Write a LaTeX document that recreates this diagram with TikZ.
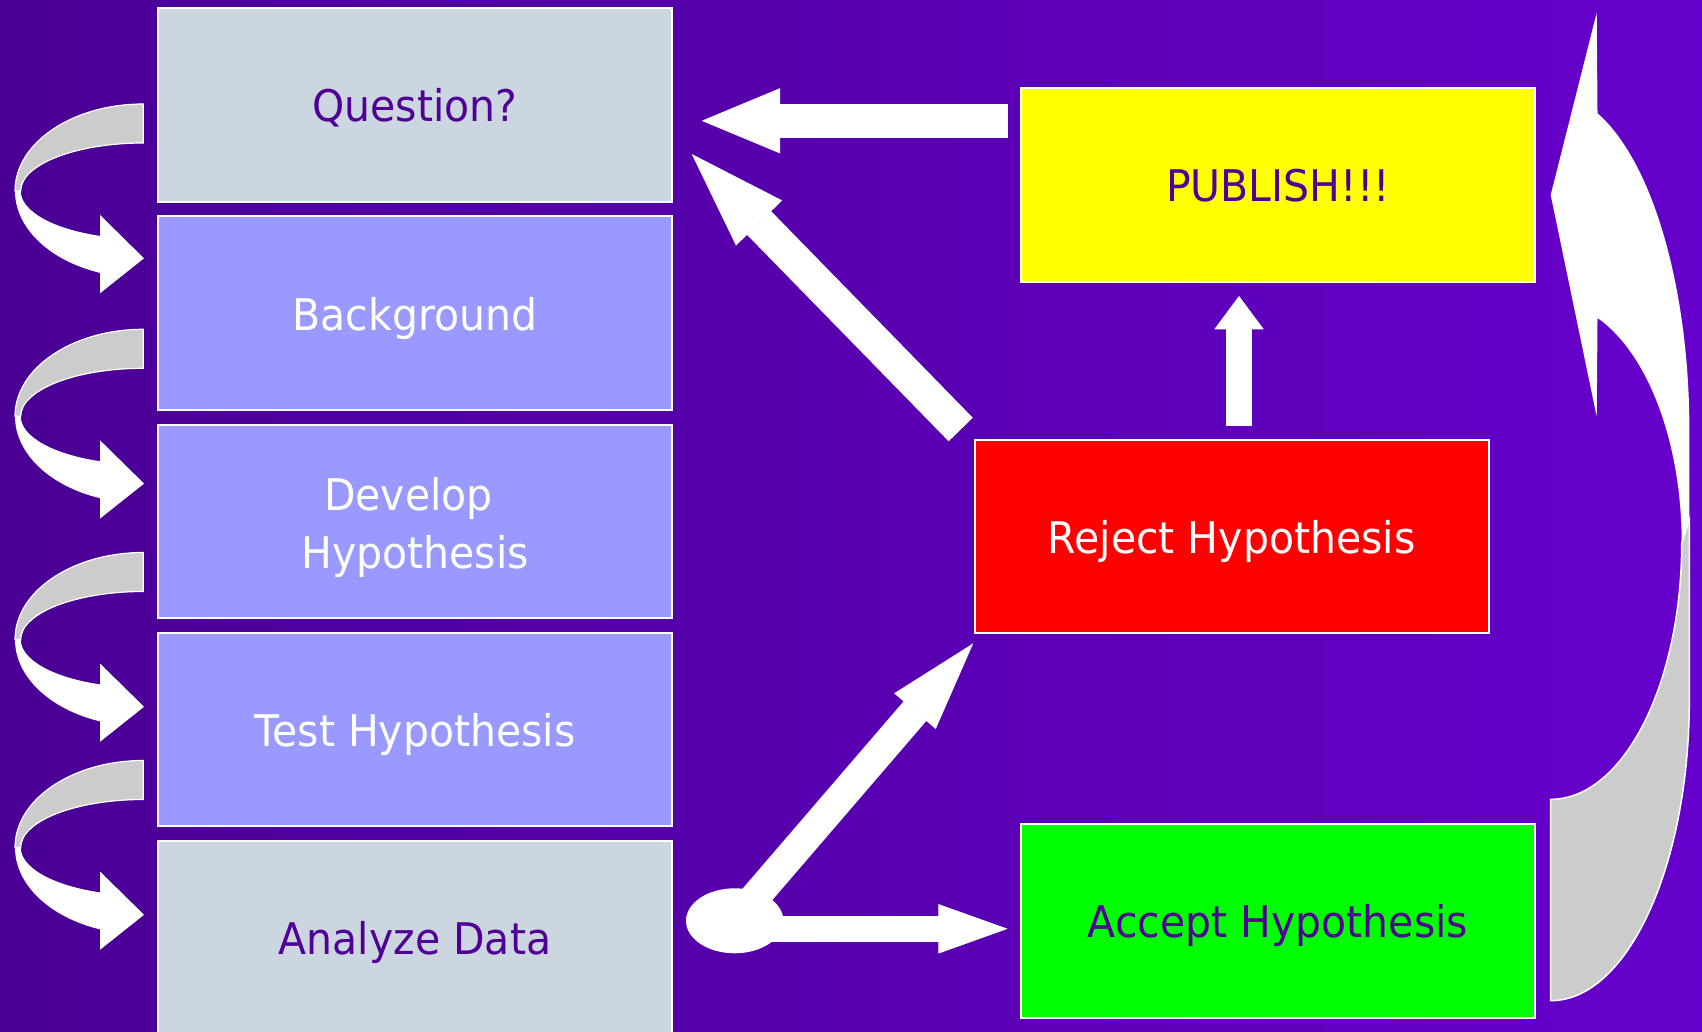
\documentclass[tikz,border=0pt]{standalone}
\usepackage{fontspec}
\setmainfont{DejaVu Sans}[FakeStretch=0.94]
\usetikzlibrary{arrows.meta,shapes.geometric}
\definecolor{bgL}{RGB}{74,0,148}
\definecolor{bgR}{RGB}{102,0,204}
\definecolor{txtP}{RGB}{80,0,150}
\definecolor{paleBox}{RGB}{204,214,224}
\definecolor{lavBox}{RGB}{153,153,255}
\definecolor{ribbonGray}{RGB}{204,204,204}
\definecolor{pubYellow}{RGB}{255,255,0}
\definecolor{rejRed}{RGB}{255,0,0}
\definecolor{accGreen}{RGB}{0,255,0}
\newcommand\boxfontsz{\fontsize{43.6}{58.3}\selectfont}
\tikzset{
  box/.style={rectangle, draw=white, line width=2pt, minimum width=514pt,
    minimum height=193.4pt, inner sep=0pt, font=\boxfontsz,
    text height=34pt, text depth=0pt},
  lbl/.style={inner sep=0pt, font=\boxfontsz},
  blockarrow/.style n args={3}{draw=white, line width=#1,
    -{Triangle[length=#2 0 0, width=#3 0 0, line width=1pt 0 0]}},
  curl/.pic={
    \filldraw[fill=ribbonGray, draw=white, line width=1.2pt]
      (0,0) arc[start angle=-90, end angle=-180, x radius=128.3, y radius=87]
      -- (-122.6,87) arc[start angle=180, end angle=270, x radius=122.6, y radius=48]
      -- cycle;
    \fill[white]
      (-128.3,87) arc[start angle=180, end angle=109.7, x radius=128.3, y radius=87]
      -- (-43.3,189.3) -- (0.7,154.3) -- (-43.3,111) -- (-43.3,131.9)
      arc[start angle=110.7, end angle=180, x radius=122.6, y radius=48]
      -- cycle;
  }
}
\begin{document}
\begin{tikzpicture}[x=1pt,y=-1pt]
\useasboundingbox (0,0) rectangle (1702,1032);
\shade[left color=bgL, right color=bgR] (0,0) rectangle (1702,1032);

% left column boxes
\node[box, fill=paleBox, text=txtP] (q) at (415,105) {Question?};
\node[box, fill=lavBox, text=white] (bg) at (415,313.2) {Background};
\node[box, fill=lavBox] (dev) at (415,521.4) {};
\node[lbl, text=white, anchor=base] (devA) at (415,510) {Develop\kern13pt};
\node[lbl, text=white, anchor=base] (devB) at (415,568.3) {Hypothesis};
\node[box, fill=lavBox, text=white] (test) at (415,729.6) {Test Hypothesis};
\node[box, fill=paleBox, text=txtP] (an) at (415,937.8) {Analyze Data};

% right boxes
\node[box, fill=pubYellow, text=txtP] (pub) at (1278,185) {PUBLISH!!!};
\node[box, fill=rejRed, text=white] (rej) at (1231.7,536.7) {Reject Hypothesis};
\node[box, fill=accGreen, text=txtP] (acc) at (1278,920.8) {Accept Hypothesis};

% left curled arrows
\pic (c1) at (143.3,104) {curl};
\pic (c2) at (143.3,329.3) {curl};
\pic (c3) at (143.3,552.5) {curl};
\pic (c4) at (143.3,760.5) {curl};

% junction dot
\node[ellipse, fill=white, minimum width=97.4pt, minimum height=65pt, inner sep=0pt] (dot) at (734.7,920.8) {};

% straight block arrows
\coordinate (pa1) at (1008,120.8);
\coordinate (pa2) at (701.7,120.8);
\draw[blockarrow={33.7pt}{78.3pt}{65pt}] (pa1) -- (pa2);

\coordinate (ra1) at (960.7,429.5);
\coordinate (ra2) at (691.7,154);
\draw[blockarrow={33.7pt}{96.5pt}{64.3pt}] (ra1) -- (ra2);

\coordinate (ua1) at (1239,425.7);
\coordinate (ua2) at (1239,296);
\draw[blockarrow={26pt}{33.3pt}{49.3pt}] (ua1) -- (ua2);

\coordinate (ta2) at (973.3,643.3);
\draw[blockarrow={30pt}{89.5pt}{54.5pt}] (dot.center) -- (ta2);

\coordinate (ha1) at (734.7,928.8);
\coordinate (ha2) at (1007.7,928.8);
\draw[blockarrow={25.7pt}{69.4pt}{49.3pt}] (ha1) -- (ha2);

% big curved arrow on the right
\filldraw[fill=ribbonGray, draw=white, line width=1.5pt]
  (1550.7,799.3) -- (1550.7,1000.7)
  arc[start angle=90, end angle=0, x radius=138.6, y radius=300.7]
  -- (1689.3,520) -- (1681.7,543)
  arc[start angle=0, end angle=90, x radius=131, y radius=256.3]
  -- cycle;
\fill[white]
  (1550.7,195) -- (1596.7,12.7) -- (1597.5,113.3)
  arc[start angle=-70.3, end angle=0, x radius=138.6, y radius=337]
  -- (1689.3,520) -- (1681.7,543)
  arc[start angle=0, end angle=-68.7, x radius=131, y radius=241]
  -- (1597.5,318.3) -- (1596.7,416.7) -- cycle;
\end{tikzpicture}
\end{document}
